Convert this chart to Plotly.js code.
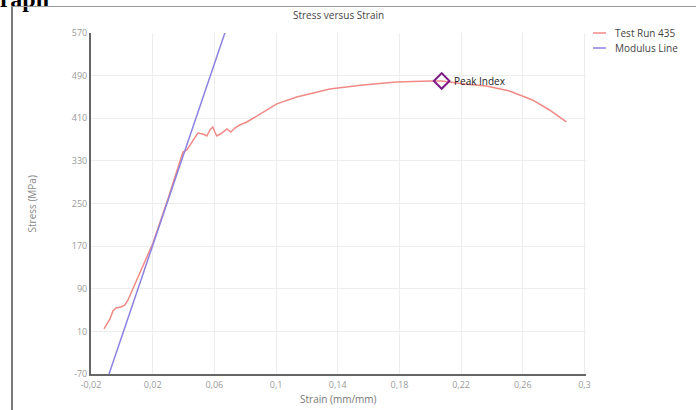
<!DOCTYPE html>
<html>
<head>
<meta charset="utf-8">
<script src="https://cdn.plot.ly/plotly-3.0.1.min.js"></script>
<style>
  html, body { margin:0; padding:0; background:#fff; overflow:hidden; }
  #wrap { position:relative; width:696px; height:410px; overflow:hidden; }
  #heading { position:absolute; left:-19px; top:-13px; font-family:"Liberation Serif", serif; font-weight:bold; font-size:24px; line-height:24px; color:#000; }
  #frame { position:absolute; left:11px; top:6px; width:700px; height:420px; border-left:2px solid #7a7a7a; border-top:1px solid #9a9a9a; }
  #chart { position:absolute; left:0; top:0; width:696px; height:410px; }
</style>
</head>
<body>
<div id="wrap">
  <div id="heading">Graph</div>
  <div id="frame"></div>
  <div id="chart"></div>
</div>
<script>
// Test Run 435 (strain mm/mm, stress MPa)
var testName = "Test Run 435";
var testStrain = [-0.0116, -0.0096, -0.0077, -0.0058, -0.0038, -0.0006, 0.0020, 0.0040, 0.0117, 0.0202, 0.0299, 0.0396, 0.0422, 0.0454, 0.0493, 0.0526, 0.0551, 0.0571, 0.0590, 0.0603, 0.0616, 0.0649, 0.0681, 0.0707, 0.0733, 0.0765, 0.0810, 0.0875, 0.0940, 0.1005, 0.1134, 0.1348, 0.1562, 0.1782, 0.1996, 0.2074, 0.2223, 0.2365, 0.2514, 0.2663, 0.2773, 0.2883];
var testStress = [14.5, 23.8, 33.2, 48.2, 53.9, 55.8, 59.5, 68.9, 119.6, 175.9, 258.4, 346.7, 350.4, 365.4, 382.3, 380.4, 376.7, 388.0, 393.6, 384.2, 376.7, 382.3, 389.8, 384.2, 391.7, 397.3, 403.0, 414.0, 425.0, 437.0, 449.9, 464.9, 472.4, 478.0, 479.9, 480.0, 474.3, 470.5, 461.0, 444.3, 425.5, 403.0];

// Modulus line
var modName = "Modulus Line";
var modStrain = [-0.0083, 0.0668];
var modStress = [-70, 570];

// Peak
var peakLabel = "Peak Index";
var peakStrain = [0.2074];
var peakStress = [480.0];

// Ticks and titles
var xTickVals = [-0.02, 0.02, 0.06, 0.1, 0.14, 0.18, 0.22, 0.26, 0.3];
var xTickText = ["-0,02", "0,02", "0,06", "0,1", "0,14", "0,18", "0,22", "0,26", "0,3"];
var yTickVals = [-70, 10, 90, 170, 250, 330, 410, 490, 570];
var yTickText = ["-70", "10", "90", "170", "250", "330", "410", "490", "570"];
var chartTitle = "Stress versus Strain";
var xTitle = "Strain (mm/mm)";
var yTitle = "Stress (MPa)";

var testColor = "#f08a86";
var modColor = "#8c82e0";
var FONT = "Open Sans, Noto Sans, sans-serif";

var traces = [
  { x: testStrain, y: testStress, mode: "lines", name: testName, line: { color: testColor, width: 1.5 }, showlegend: false },
  { x: modStrain, y: modStress, mode: "lines", name: modName, line: { color: modColor, width: 1.5 }, showlegend: false },
  { x: peakStrain, y: peakStress, mode: "markers", name: peakLabel,
    marker: { symbol: "diamond-open", size: 12, color: "#7d1a86", line: { width: 2, color: "#7d1a86" } }, showlegend: false }
];

var layout = {
  width: 696, height: 410,
  margin: { l: 91, r: 110, t: 33, b: 36 },
  paper_bgcolor: "rgba(0,0,0,0)",
  plot_bgcolor: "rgba(0,0,0,0)",
  font: { family: FONT, size: 9, color: "#999" },
  title: { text: chartTitle, x: 0.5, xref: "paper", xanchor: "center", y: 0.961, yanchor: "middle", font: { family: FONT, size: 10, color: "#444" } },
  xaxis: {
    range: [-0.02, 0.301], tickvals: xTickVals, ticktext: xTickText,
    showgrid: true, gridcolor: "#ededed", gridwidth: 1, zeroline: false,
    showline: true, linecolor: "#666", linewidth: 2, ticks: "", ticklabelstandoff: 1,
    tickfont: { family: FONT, size: 9, color: "#9a9a9a" },
    automargin: false
  },
  yaxis: {
    range: [-70, 570], tickvals: yTickVals, ticktext: yTickText,
    showgrid: true, gridcolor: "#ededed", gridwidth: 1, zeroline: false,
    showline: true, linecolor: "#666", linewidth: 2, ticks: "",
    tickfont: { family: FONT, size: 9, color: "#9a9a9a" },
    automargin: false
  },
  showlegend: false,
  shapes: [
    { type: "line", xref: "paper", yref: "paper", x0: 1.0141, x1: 1.0404, y0: 1.0, y1: 1.0, line: { color: testColor, width: 1.5 } },
    { type: "line", xref: "paper", yref: "paper", x0: 1.0141, x1: 1.0404, y0: 0.956, y1: 0.956, line: { color: modColor, width: 1.5 } }
  ],
  annotations: [
    { xref: "paper", yref: "paper", x: 1.0545, y: 1.0, xanchor: "left", yanchor: "middle", showarrow: false, text: testName, font: { family: FONT, size: 10, color: "#444" } },
    { xref: "paper", yref: "paper", x: 1.0545, y: 0.956, xanchor: "left", yanchor: "middle", showarrow: false, text: modName, font: { family: FONT, size: 10, color: "#444" } },
    { xref: "x", yref: "y", x: peakStrain[0], y: peakStress[0], xanchor: "left", yanchor: "middle", xshift: 10, showarrow: false, text: peakLabel, font: { family: FONT, size: 10, color: "#222" } },
    { xref: "paper", yref: "paper", x: 0.5, y: -0.073, xanchor: "center", yanchor: "middle", showarrow: false, text: xTitle, font: { family: FONT, size: 10, color: "#777" } },
    { xref: "paper", yref: "paper", x: -0.1192, y: 0.5, xanchor: "center", yanchor: "middle", textangle: -90, showarrow: false, text: yTitle, font: { family: FONT, size: 10, color: "#888" } }
  ]
};

Plotly.newPlot("chart", traces, layout, { displayModeBar: false, staticPlot: true });
</script>
</body>
</html>
